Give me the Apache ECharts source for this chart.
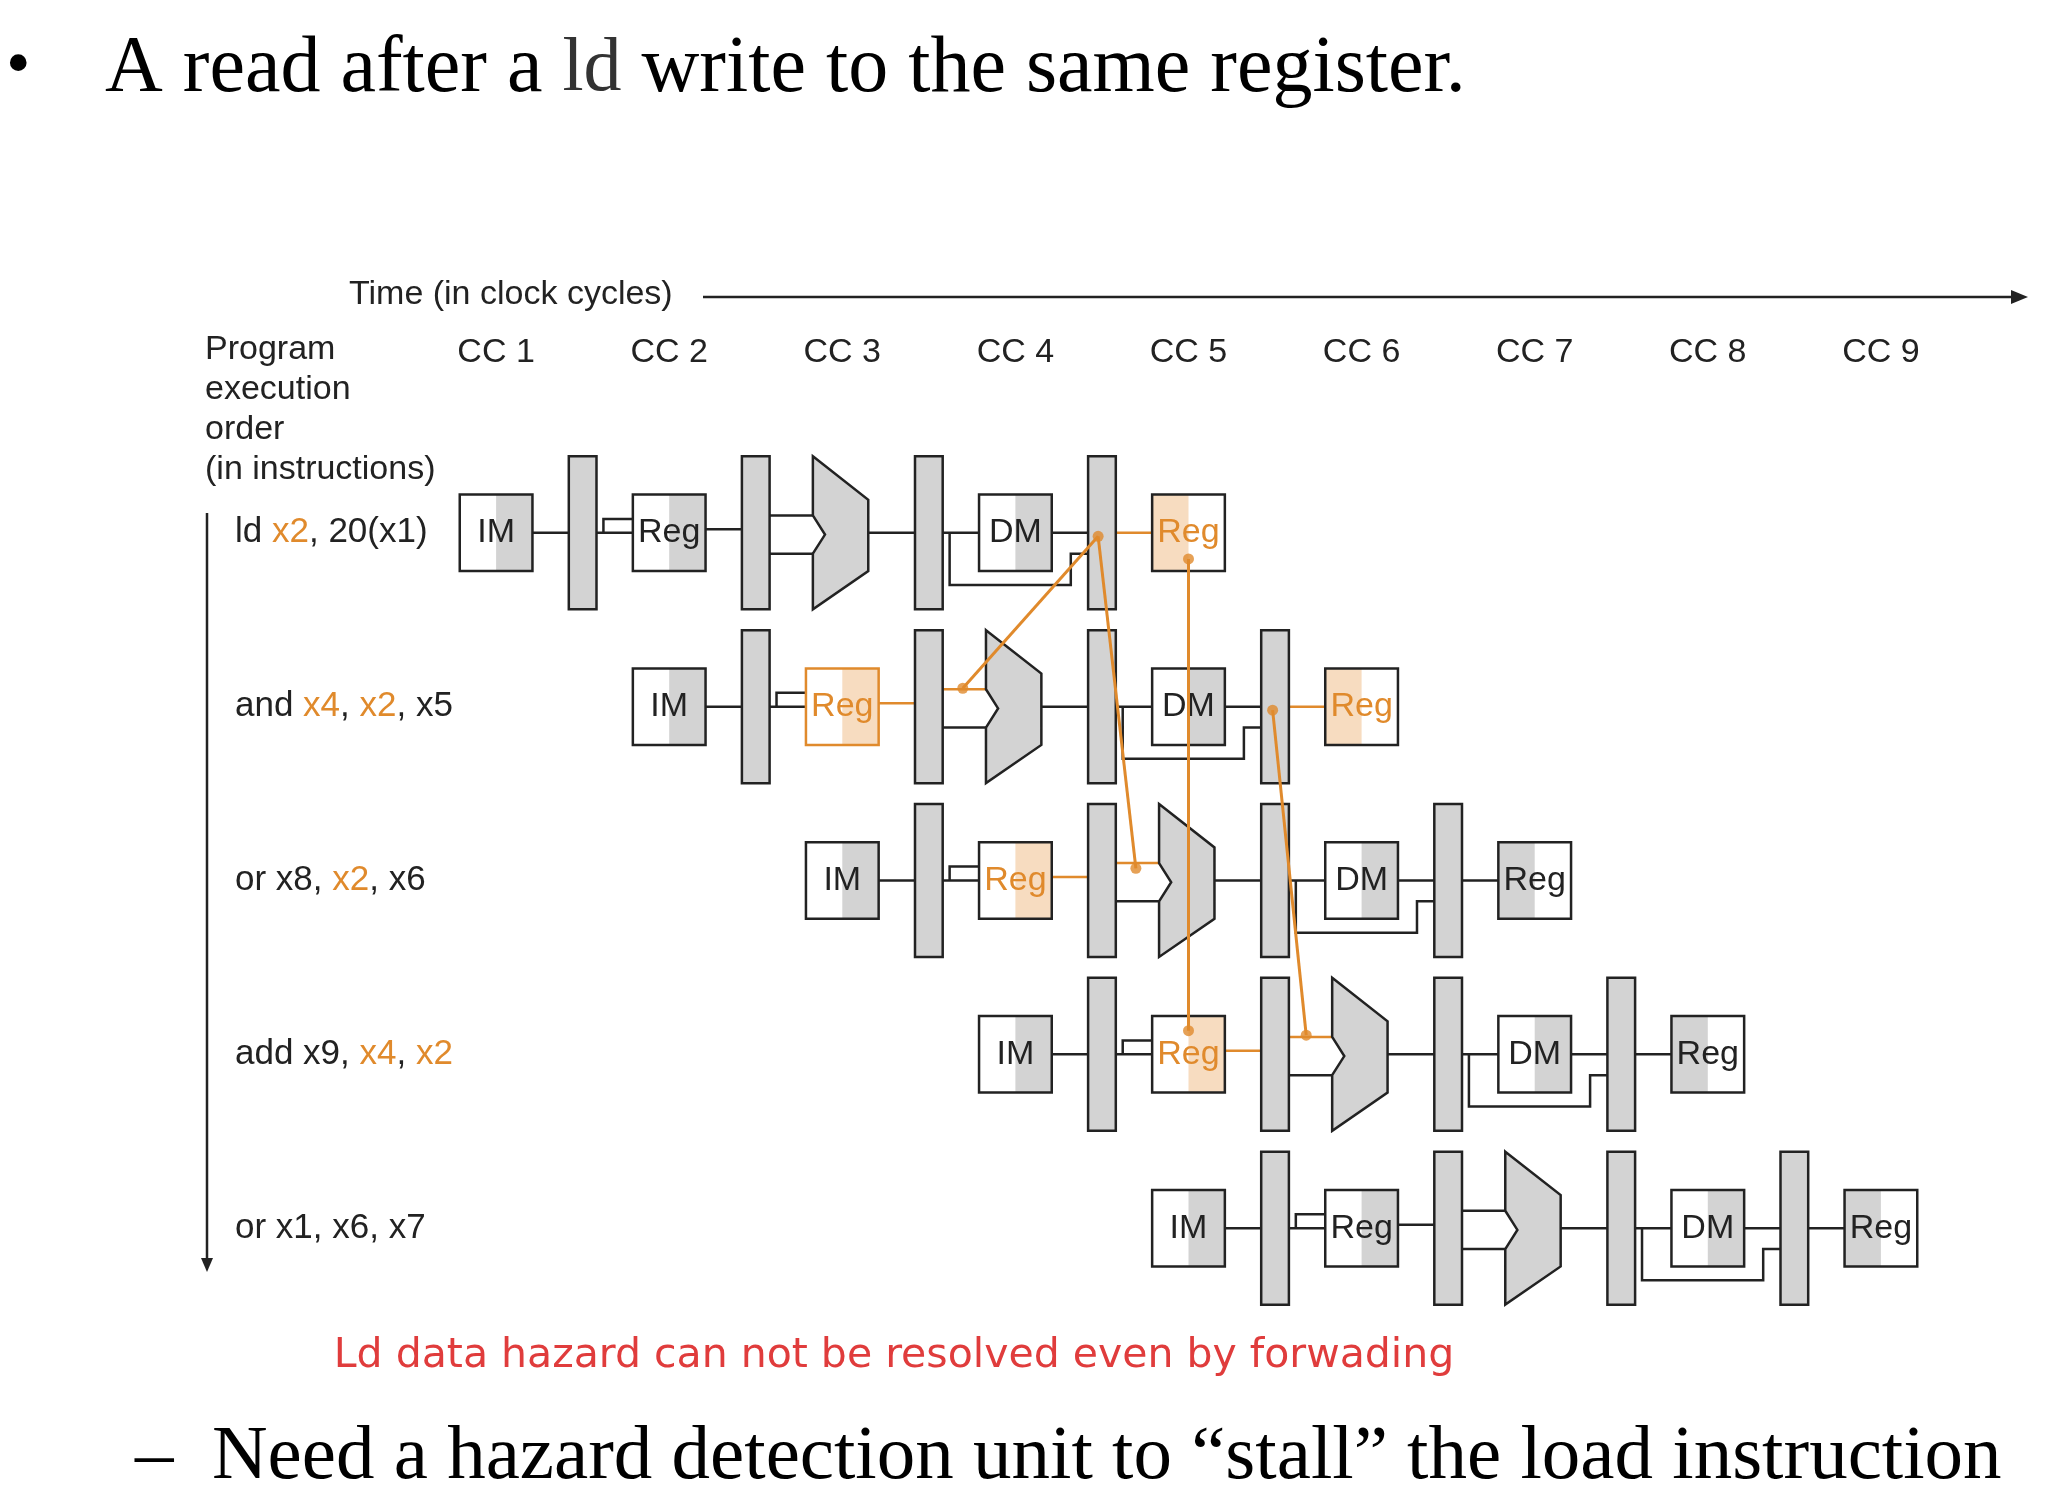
<!DOCTYPE html>
<html><head><meta charset="utf-8">
<script src="https://cdn.jsdelivr.net/npm/echarts@6/dist/echarts.min.js"></script>
<style>html,body{margin:0;padding:0;background:#fff}#c{width:2054px;height:1512px}</style>
</head><body><div id="c"></div>
<script>
const ccLabels = ['CC 1','CC 2','CC 3','CC 4','CC 5','CC 6','CC 7','CC 8','CC 9'];
const instrLabels = ['ld {o|x2}, 20(x1)','and {o|x4}, {o|x2}, x5','or x8, {o|x2}, x6','add x9, {o|x4}, {o|x2}','or x1, x6, x7'];
const startCycles = [1,2,3,4,5];
const readHighlight = [0,1,1,1,0];
const writeHighlight = [1,1,0,0,0];
const forwardPaths = [
  [[4.478,1.02],[3.696,1.894]],
  [[4.478,1.02],[4.696,2.93]],
  [[5.0,1.15],[5.0,3.864]],
  [[5.486,2.02],[5.68,3.89]]
];
const forwardDots = [[4.478,1.02],[3.696,1.894],[4.696,2.93],[5.0,1.15],[5.0,3.864],[5.486,2.02],[5.68,3.89]];

const OR='#e08a2c', ORL='#f7dcc0', GR='#d3d3d3', BK='#222';
const chart = echarts.init(document.getElementById('c'));

function pipeRender(params, api){
  const c = api.value(0), r = api.value(1), i = params.dataIndex;
  const [ux,uy] = api.size([1,1]);
  const P = (dx,dy)=>api.coord([c+dx, r+dy]);
  const kids = [];
  const line = (pts,col)=>kids.push({type:'polyline',shape:{points:pts.map(q=>P(q[0],q[1]))},style:{stroke:col||BK,lineWidth:2.5,fill:null}});
  const rect = (dx,dy,w,h,style)=>{const p=P(dx-w/2,dy-h/2);kids.push({type:'rect',shape:{x:p[0],y:p[1],width:w*ux,height:h*uy},style});};
  const box = (dx,label,shade,shadeCol,txtCol,border)=>{
    rect(dx,0,0.42,0.44,{fill:'#fff'});
    if(shade==='right') rect(dx+0.105,0,0.21,0.44,{fill:shadeCol});
    if(shade==='left') rect(dx-0.105,0,0.21,0.44,{fill:shadeCol});
    rect(dx,0,0.42,0.44,{fill:null,stroke:border||BK,lineWidth:2.5});
    const p=P(dx,0);
    kids.push({type:'text',style:{text:label,x:p[0],y:p[1],align:'center',verticalAlign:'middle',fontSize:34,fontFamily:'Liberation Sans, Arial',fill:txtCol||BK}});
  };
  const rh = readHighlight[i], wh = writeHighlight[i];
  line([[0.21,0],[0.42,0]]);
  line([[0.58,0],[0.79,0]]);
  line([[0.62,0],[0.62,-0.08],[0.79,-0.08]]);
  line([[1.21,-0.02],[1.42,-0.02]], rh?OR:BK);
  line([[1.58,-0.1],[1.85,-0.1]], rh?OR:BK);
  line([[1.58,0.12],[1.85,0.12]]);
  line([[2.15,0],[2.42,0]]);
  line([[2.58,0],[2.79,0]]);
  line([[2.62,0],[2.62,0.3],[3.32,0.3],[3.32,0.12],[3.42,0.12]]);
  line([[3.21,0],[3.42,0]]);
  line([[3.58,0],[3.79,0]], wh?OR:BK);
  box(0,'IM','right',GR);
  box(1,'Reg','right', rh?ORL:GR, rh?OR:BK, rh&&i<2?OR:BK);
  box(3,'DM','right',GR);
  box(4,'Reg','left', wh?ORL:GR, wh?OR:BK);
  [0.5,1.5,2.5,3.5].forEach(x=>rect(x,0,0.16,0.88,{fill:GR,stroke:BK,lineWidth:2.5}));
  const alu=[[-0.17,-0.44],[0.15,-0.19],[0.15,0.22],[-0.17,0.44],[-0.17,0.12],[-0.1,0.01],[-0.17,-0.1]];
  kids.push({type:'polygon',shape:{points:alu.map(q=>P(2+q[0],q[1]))},style:{fill:GR,stroke:BK,lineWidth:2.5}});
  return {type:'group',children:kids};
}

function fwdRender(params, api){
  const pts = forwardPaths[params.dataIndex].map(q=>api.coord(q));
  return {type:'polyline',shape:{points:pts},style:{stroke:OR,lineWidth:3,fill:null}};
}
function ccRender(params, api){
  const p = api.coord([api.value(0), api.value(1)]);
  return {type:'text',style:{text:ccLabels[params.dataIndex],x:p[0],y:p[1],align:'center',verticalAlign:'middle',fontSize:34,fontFamily:'Liberation Sans, Arial',fill:BK}};
}
function instrRender(params, api){
  const p = api.coord([api.value(0), api.value(1)]);
  return {type:'text',style:{text:instrLabels[params.dataIndex],x:235,y:p[1],align:'left',verticalAlign:'middle',fontSize:35,fontFamily:'Liberation Sans, Arial',fill:BK,rich:{o:{fill:OR,fontSize:35,fontFamily:'Liberation Sans, Arial'}}}};
}

chart.setOption({
  animation:false,
  grid:{left:323,top:359,width:1866,height:1043},
  xAxis:{type:'value',min:0,max:10,show:false},
  yAxis:{type:'value',min:0,max:6,inverse:true,show:false},
  series:[
    {type:'custom',renderItem:fwdRender,clip:false,z:3,data:forwardPaths.map(p=>[p[0][0],p[0][1]])},
    {type:'custom',renderItem:pipeRender,clip:false,z:2,data:startCycles.map((c,i)=>[c,i+1])},
    {type:'scatter',data:forwardDots,symbolSize:11,itemStyle:{color:OR},z:4,silent:true},
    {type:'custom',renderItem:ccRender,clip:false,data:ccLabels.map((l,k)=>[k+1,-0.035])},
    {type:'custom',renderItem:instrRender,clip:false,data:instrLabels.map((l,k)=>[0,k+1])}
  ],
  graphic:[
    {type:'text',x:6,y:68,style:{text:'•',fontSize:70,verticalAlign:'middle',fontFamily:'Liberation Serif, Times New Roman',fill:'#000'}},
    {type:'text',x:105,y:70,style:{text:'A read after a {m|ld} write to the same register.',verticalAlign:'middle',fontSize:80,fontFamily:'Liberation Serif, Times New Roman',fill:'#000',rich:{m:{fontSize:76,fontFamily:'Liberation Serif, Times New Roman',fill:'#333'}}}},
    {type:'text',x:349,y:295,style:{text:'Time (in clock cycles)',verticalAlign:'middle',fontSize:34,fontFamily:'Liberation Sans, Arial',fill:BK}},
    {type:'line',shape:{x1:703,y1:297,x2:2015,y2:297},style:{stroke:BK,lineWidth:2.5}},
    {type:'polygon',shape:{points:[[2028,297],[2011,290],[2011,304]]},style:{fill:BK}},
    {type:'text',left:205,top:330,style:{text:'Program\nexecution\norder\n(in instructions)',fontSize:34,lineHeight:40,fontFamily:'Liberation Sans, Arial',fill:BK}},
    {type:'line',shape:{x1:207,y1:513,x2:207,y2:1260},style:{stroke:BK,lineWidth:2.5}},
    {type:'polygon',shape:{points:[[207,1272],[201,1258],[213,1258]]},style:{fill:BK}},
    {type:'text',x:894,y:1356,style:{text:'Ld data hazard can not be resolved even by forwading',align:'center',verticalAlign:'middle',fontSize:41,fontFamily:'DejaVu Sans, Verdana',fill:'#e03c3c'}},
    {type:'text',x:135,y:1458,style:{text:'–  Need a hazard detection unit to “stall” the load instruction',verticalAlign:'middle',fontSize:77,fontFamily:'Liberation Serif, Times New Roman',fill:'#000'}}
  ]
});
</script></body></html>
